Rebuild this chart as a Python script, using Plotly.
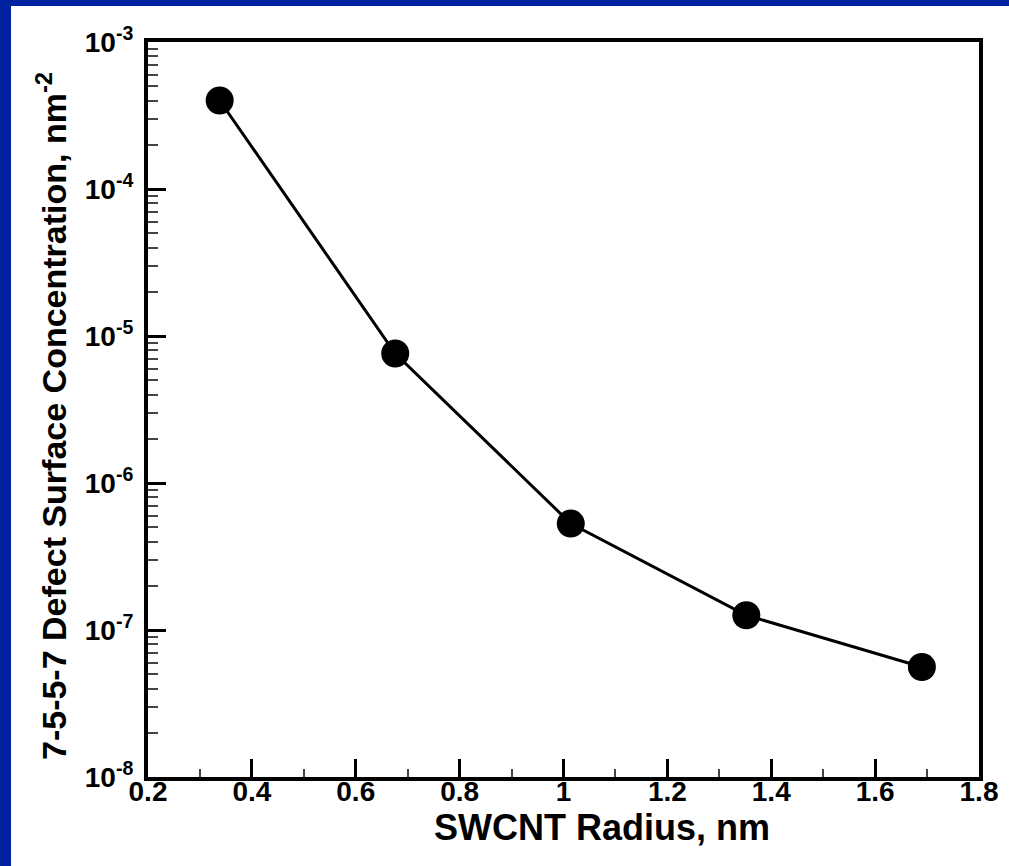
import plotly.graph_objects as go

radius_nm = [0.338, 0.676, 1.014, 1.352, 1.690]
concentration = [4.0e-4, 7.6e-6, 5.3e-7, 1.26e-7, 5.6e-8]

x_tickvals = [0.2, 0.4, 0.6, 0.8, 1.0, 1.2, 1.4, 1.6, 1.8]
x_ticktext = ["0.2", "0.4", "0.6", "0.8", "1", "1.2", "1.4", "1.6", "1.8"]
y_tickvals = [1e-8, 1e-7, 1e-6, 1e-5, 1e-4, 1e-3]
y_ticktext = ["10<sup>-8</sup>", "10<sup>-7</sup>", "10<sup>-6</sup>",
              "10<sup>-5</sup>", "10<sup>-4</sup>", "10<sup>-3</sup>"]
y_minor_mantissas = [2, 3, 4, 5, 6, 7, 8, 9]
y_decades = [-8, -7, -6, -5, -4]
x_title = "SWCNT Radius, nm"
y_title = "7-5-5-7 Defect Surface Concentration, nm<sup>-2</sup>"

W, H = 1009, 866
L, R, T, B = 148, 30, 42, 89
pw, ph = W - L - R, H - T - B
BLUE = "#0021A0"

y_minor_vals = [m * 10.0 ** e for e in y_decades for m in y_minor_mantissas]

fig = go.Figure()
fig.add_trace(go.Scatter(
    x=radius_nm, y=concentration, mode="lines+markers",
    line=dict(color="black", width=3),
    marker=dict(color="black", size=28),
    showlegend=False,
))

font = dict(family="Liberation Sans, Arial, sans-serif", color="black")

fig.update_layout(
    width=W, height=H,
    margin=dict(l=L, r=R, t=T, b=B, pad=0),
    paper_bgcolor="white", plot_bgcolor="white",
    font=font,
    xaxis=dict(
        range=[0.2, 1.8], tickvals=x_tickvals,
        ticktext=["<b>%s</b>" % t for t in x_ticktext],
        tickfont=dict(size=28, **font),
        ticks="inside", ticklen=18, tickwidth=3, tickcolor="black",
        showline=True, linecolor="black", linewidth=4, mirror=True,
        showgrid=False, zeroline=False, ticklabelstandoff=-14,
        minor=dict(ticks="inside", ticklen=8, tickwidth=1.5, tickcolor="#444",
                   tickvals=[0.3, 0.5, 0.7, 0.9, 1.1, 1.3, 1.5, 1.7], showgrid=False),
    ),
    yaxis=dict(
        type="log", range=[-8, -3], tickvals=y_tickvals,
        ticktext=["<b>%s</b>" % t for t in y_ticktext],
        tickfont=dict(size=28, **font),
        ticks="inside", ticklen=18, tickwidth=3, tickcolor="black",
        showline=True, linecolor="black", linewidth=4, mirror=True,
        showgrid=False, zeroline=False, ticklabelstandoff=5,
        minor=dict(ticks="inside", ticklen=10, tickwidth=1.5, tickcolor="#444",
                   tickvals=y_minor_vals, showgrid=False),
    ),
    annotations=[
        dict(text="<b>%s</b>" % x_title, xref="paper", yref="paper",
             x=(602 - L) / pw, y=(H - B - 827) / ph, xanchor="center", yanchor="middle",
             showarrow=False, font=dict(size=36, **font)),
        dict(text="<b>%s</b>" % y_title, xref="paper", yref="paper", textangle=-90,
             x=(51 - L) / pw, y=(H - B - 416) / ph, xanchor="center", yanchor="middle",
             showarrow=False, font=dict(size=34, **font)),
    ],
    shapes=[
        dict(type="rect", xref="paper", yref="paper", layer="above",
             x0=(0 - L) / pw - 0.01, x1=(11 - L) / pw, y0=-B / ph - 0.02, y1=1 + T / ph + 0.02,
             fillcolor=BLUE, line=dict(width=0)),
        dict(type="rect", xref="paper", yref="paper", layer="above",
             x0=(0 - L) / pw - 0.01, x1=(W - L) / pw + 0.02, y0=1 + (T - 6) / ph, y1=1 + T / ph + 0.02,
             fillcolor=BLUE, line=dict(width=0)),
    ],
)

fig.write_html("out.html", config={"displayModeBar": False},
               post_script="document.body.style.margin='0';document.body.style.overflow='hidden';")
